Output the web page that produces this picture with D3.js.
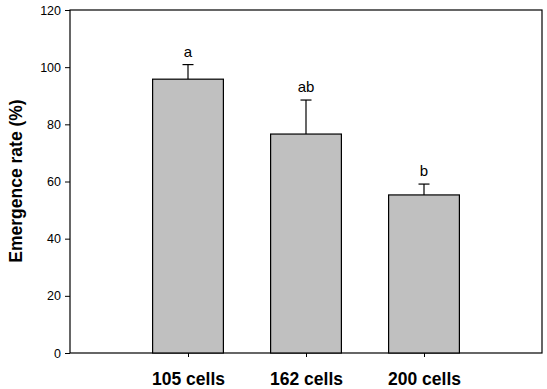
<!DOCTYPE html>
<html>
<head>
<meta charset="utf-8">
<script src="https://cdn.jsdelivr.net/npm/d3@7"></script>
<style>
  body { margin: 0; background: #fff; }
  text { font-family: Arial, "Liberation Sans", sans-serif; }
</style>
</head>
<body>
<div id="chart"></div>
<script>
const categories = ["105 cells", "162 cells", "200 cells"];
const values = [95.8, 76.6, 55.3];
const errors = [5.1, 11.9, 3.8];
const letters = ["a", "ab", "b"];
const yTicks = [0, 20, 40, 60, 80, 100, 120];

let width = 547, height = 389;
let plotLeft = 70, plotRight = 542, plotTop = 10, plotBottom = 353;

let svg = d3.select("#chart").append("svg")
	.attr("width", width)
	.attr("height", height);

let xScale = d3.scaleLinear().domain([0, categories.length + 1]).range([plotLeft, plotRight]);
let yScale = d3.scaleLinear().domain([0, 120]).range([plotBottom, plotTop]);
let barW = (xScale(1) - xScale(0)) * 0.6;

// frame
svg.append("rect")
	.attr("x", plotLeft).attr("y", plotTop)
	.attr("width", plotRight - plotLeft).attr("height", plotBottom - plotTop)
	.attr("fill", "none").attr("stroke", "#000").attr("stroke-width", 1.2);

let yAxis = d3.axisLeft(yScale).tickValues(yTicks).tickSize(5).tickSizeOuter(0);
let gy = svg.append("g")
	.attr("transform", `translate(${plotLeft},0)`)
	.call(yAxis);
gy.select(".domain").remove();
gy.selectAll("text").style("font-size", "12.5px").attr("fill", "#000").attr("dx", "-1");

let xAxis = d3.axisBottom(xScale).tickValues([1, 2, 3]).tickSize(4)
	.tickFormat(d => categories[d - 1]);
let gx = svg.append("g")
	.attr("transform", `translate(0,${plotBottom})`)
	.call(xAxis);
gx.select(".domain").remove();
gx.selectAll("text")
	.style("font-size", "17.5px")
	.style("font-weight", "bold")
	.attr("fill", "#000")
	.attr("dy", 0)
	.attr("y", 32);

// error bars (upper only)
svg.selectAll(".err")
	.data(values)
	.enter()
	.append("line")
	.attr("x1", (d, i) => xScale(i + 1))
	.attr("x2", (d, i) => xScale(i + 1))
	.attr("y1", d => yScale(d))
	.attr("y2", (d, i) => yScale(d + errors[i]))
	.attr("stroke", "#000").attr("stroke-width", 1.2);

svg.selectAll(".cap")
	.data(values)
	.enter()
	.append("line")
	.attr("x1", (d, i) => xScale(i + 1) - 5.5)
	.attr("x2", (d, i) => xScale(i + 1) + 5.5)
	.attr("y1", (d, i) => yScale(d + errors[i]))
	.attr("y2", (d, i) => yScale(d + errors[i]))
	.attr("stroke", "#000").attr("stroke-width", 1.2);

svg.selectAll(".bar")
	.data(values)
	.enter()
	.append("rect")
	.attr("x", (d, i) => xScale(i + 1) - barW / 2)
	.attr("y", d => yScale(d))
	.attr("width", barW)
	.attr("height", d => yScale(0) - yScale(d))
	.attr("fill", "#c0c0c0")
	.attr("stroke", "#000")
	.attr("stroke-width", 1.2);

svg.selectAll(".letter")
	.data(letters)
	.enter()
	.append("text")
	.attr("x", (d, i) => xScale(i + 1))
	.attr("y", (d, i) => yScale(values[i] + errors[i]) - 8)
	.attr("text-anchor", "middle")
	.attr("fill", "#000")
	.style("font-size", "15px")
	.text(d => d);

svg.append("text")
	.attr("transform", `translate(22,181) rotate(-90)`)
	.attr("text-anchor", "middle")
	.attr("fill", "#000")
	.style("font-size", "17.5px")
	.style("font-weight", "bold")
	.text("Emergence rate (%)");
</script>
</body>
</html>
